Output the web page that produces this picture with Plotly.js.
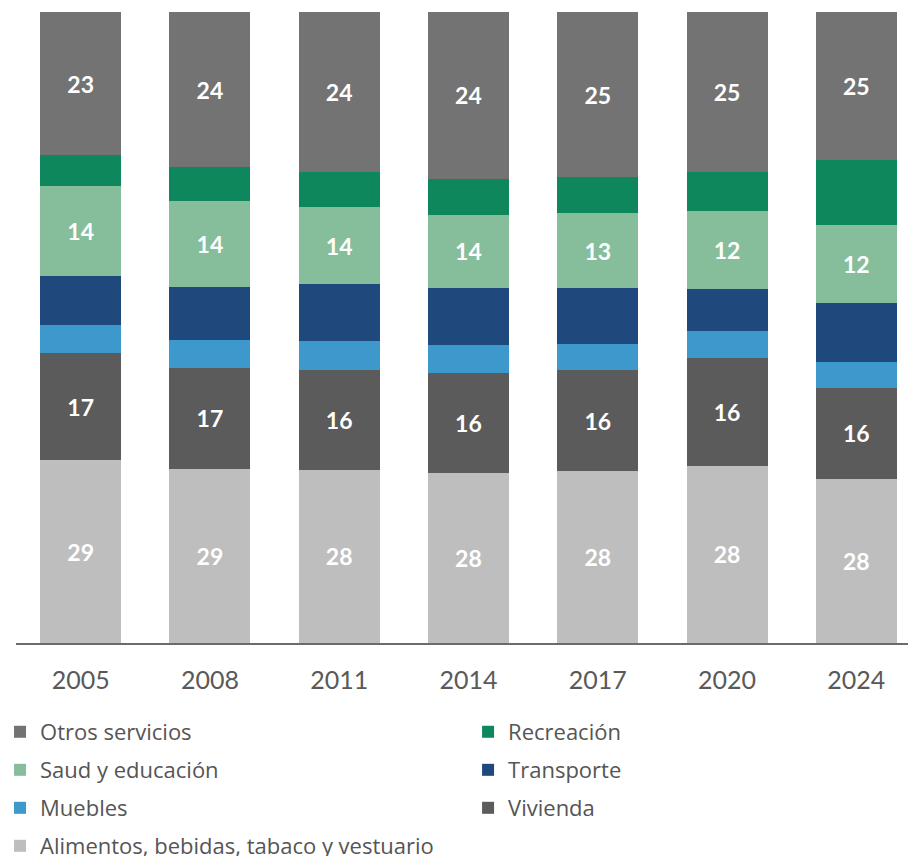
<!DOCTYPE html>
<html>
<head>
<meta charset="utf-8">
<script src="https://cdn.plot.ly/plotly-3.0.1.min.js"></script>
<style>
  html, body { margin: 0; background: #fff; overflow: hidden; }
  #chart { width: 908px; height: 870px; }
</style>
</head>
<body>
<div id="chart"></div>
<script>
// años de la encuesta
const years = ['2005', '2008', '2011', '2014', '2017', '2020', '2024'];

// participación en el gasto (%), de abajo hacia arriba en la barra
const alimentos  = [29.0, 27.6, 27.4, 26.9, 27.2, 28.1, 26.0];
const vivienda   = [16.9, 15.9, 15.9, 15.9, 16.0, 17.0, 14.5];
const muebles    = [4.5, 4.5, 4.5, 4.4, 4.2, 4.4, 4.1];
const transporte = [7.7, 8.4, 9.0, 9.0, 8.8, 6.6, 9.3];
const salud      = [14.4, 13.6, 12.2, 11.6, 12.0, 12.4, 12.4];
const recreacion = [4.8, 5.3, 5.5, 5.7, 5.6, 6.2, 10.3];
const otros      = [22.7, 24.6, 25.4, 26.4, 26.2, 25.3, 23.5];

// etiquetas que muestra el gráfico
const alimentosLbl = [29, 29, 28, 28, 28, 28, 28];
const viviendaLbl  = [17, 17, 16, 16, 16, 16, 16];
const saludLbl     = [14, 14, 14, 14, 13, 12, 12];
const otrosLbl     = [23, 24, 24, 24, 25, 25, 25];

function barTrace(name, y, color, legend, labels) {
    const t = {
        type: 'bar',
        name: name,
        x: years,
        y: y,
        legend: legend,
        marker: { color: color, line: { width: 0 } },
        hoverinfo: 'name+y'
    };
    if (labels) {
        t.text = labels.map(String);
        t.textposition = 'inside';
        t.insidetextanchor = 'middle';
        t.textangle = 0;
        t.constraintext = 'none';
        t.textfont = { family: 'Lato', size: 23, color: '#ffffff', weight: 700 };
    } else {
        t.textposition = 'none';
    }
    return t;
}

// una leyenda por entrada, en dos columnas
const data = [
    barTrace('Alimentos, bebidas, tabaco y vestuario', alimentos, '#BEBEBE', 'legend7', alimentosLbl),
    barTrace('Vivienda', vivienda, '#5B5B5B', 'legend6', viviendaLbl),
    barTrace('Muebles', muebles, '#3D98CB', 'legend5'),
    barTrace('Transporte', transporte, '#1F497D', 'legend4'),
    barTrace('Saud y educación', salud, '#86BE9C', 'legend3', saludLbl),
    barTrace('Recreación', recreacion, '#0E875C', 'legend2'),
    barTrace('Otros servicios', otros, '#737373', 'legend', otrosLbl)
];

const legendFont = { family: 'Open Sans', size: 22, color: '#555555' };
function legendBox(x, y) {
    return {
        orientation: 'v',
        x: x,
        xanchor: 'left',
        y: y,
        yanchor: 'middle',
        font: legendFont,
        bgcolor: 'rgba(0,0,0,0)',
        borderwidth: 0
    };
}

// la columna izquierda empieza en el borde del papel
const col1 = -0.0179, col2 = 0.5068;

const layout = {
    width: 908,
    height: 870,
    margin: { l: 16, r: 0, t: 12, b: 227 },
    paper_bgcolor: '#ffffff',
    plot_bgcolor: '#ffffff',
    barmode: 'stack',
    barnorm: 'percent',
    bargap: 0.3735,
    showlegend: true,
    xaxis: {
        type: 'category',
        range: [-0.5, 6.4],
        showline: true,
        linecolor: '#6B6B6B',
        linewidth: 2,
        ticks: '',
        ticklabelstandoff: 14,
        tickfont: { family: 'Lato', size: 25, color: '#595959' },
        showgrid: false,
        zeroline: false,
        fixedrange: true
    },
    yaxis: {
        range: [0, 100],
        visible: false,
        showgrid: false,
        zeroline: false,
        fixedrange: true
    },
    legend:  legendBox(col1, -0.1410),
    legend2: legendBox(col2, -0.1410),
    legend3: legendBox(col1, -0.2013),
    legend4: legendBox(col2, -0.2013),
    legend5: legendBox(col1, -0.2615),
    legend6: legendBox(col2, -0.2615),
    legend7: legendBox(col1, -0.3217)
};

Plotly.newPlot('chart', data, layout, { displayModeBar: false, staticPlot: true });
</script>
</body>
</html>
